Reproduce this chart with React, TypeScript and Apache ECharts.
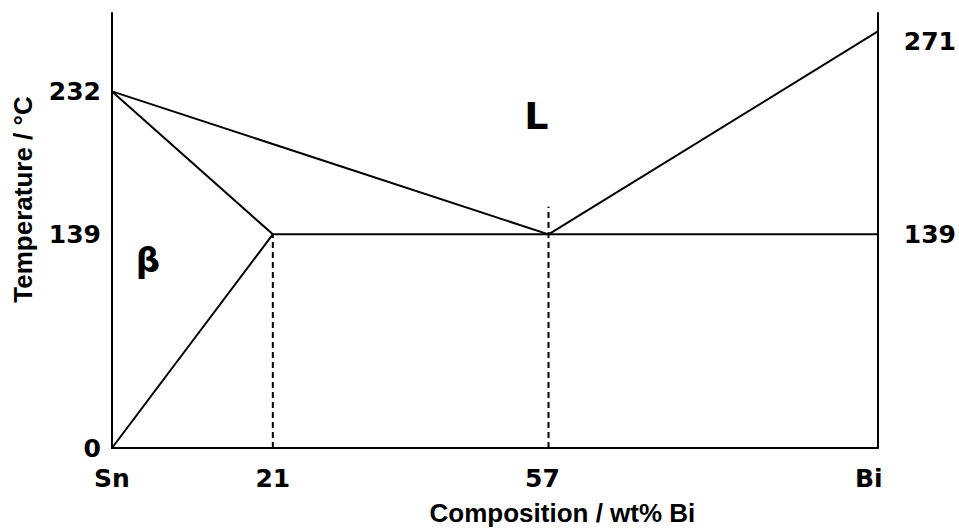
import React, { useEffect, useRef } from "react";
import * as echarts from "echarts";

const xMin = 0;
const xMax = 100;
const yMin = 0;
const yMax = 283;

const xTickValues = [0, 21, 57, 100];
const xTickNames = ["Sn", "21", "57", "Bi"];
const leftTickValues = [0, 139, 232];
const rightTickValues = [139, 271];

const liquidusLeft = [[0, 232], [57, 139]];
const liquidusRight = [[57, 139], [100, 271]];
const solvus = [[0, 232], [21, 139], [0, 0]];
const eutectic = [[21, 139], [100, 139]];
const dash21 = [[21, 0], [21, 139]];
const dash57 = [[57, 0], [57, 157]];

const regionLabels = [
  { name: "L", value: [55.4, 216], size: 38 },
  { name: "β", value: [4.7, 122], size: 34 },
];

const NUM_FONT = "DejaVu Sans";
const TITLE_FONT = "Liberation Sans";

export default function App() {
  const ref = useRef<HTMLDivElement>(null);

  useEffect(() => {
    document.body.style.margin = "0";
    const chart = echarts.init(ref.current!, null, { renderer: "svg" });
    const numStyle = { fontFamily: NUM_FONT, fontWeight: "bold", fontSize: 25, color: "#000" };
    const solid = (data: number[][], name: string) => ({
      type: "line",
      name,
      data,
      symbol: "none",
      lineStyle: { color: "#000", width: 2 },
      silent: true,
    });
    const dashed = (data: number[][], name: string) => ({
      type: "line",
      name,
      data,
      symbol: "none",
      lineStyle: { color: "#000", width: 2, type: [6, 4] },
      silent: true,
    });
    chart.setOption({
      animation: false,
      grid: { left: 112, right: 80, top: 13, bottom: 79 },
      xAxis: {
        type: "value",
        min: xMin,
        max: xMax,
        name: "Composition / wt% Bi",
        nameLocation: "middle",
        nameGap: 52,
        nameTextStyle: {
          fontFamily: TITLE_FONT,
          fontWeight: "bold",
          fontSize: 26,
          color: "#000",
          padding: [0, 0, 0, 135],
        },
        axisLine: { show: true, lineStyle: { color: "#000", width: 2 } },
        axisTick: { show: false },
        splitLine: { show: false },
        axisLabel: {
          customValues: xTickValues,
          margin: 18,
          ...numStyle,
          formatter: (v: number) => {
            const i = xTickValues.indexOf(v);
            const name = i >= 0 ? xTickNames[i] : "";
            if (v === 57) return "{s|" + name + "}";
            if (v === 100) return "{b|" + name + "}";
            return "{n|" + name + "}";
          },
          rich: {
            n: { ...numStyle },
            s: { ...numStyle, padding: [0, 12, 0, 0] },
            b: { ...numStyle, padding: [0, 18, 0, 0] },
          },
        },
      },
      yAxis: [
        {
          type: "value",
          min: yMin,
          max: yMax,
          position: "left",
          name: "Temperature / °C",
          nameLocation: "middle",
          nameGap: 76,
          nameRotate: 90,
          nameTextStyle: {
            fontFamily: TITLE_FONT,
            fontWeight: "bold",
            fontSize: 26,
            color: "#000",
            padding: [0, 0, 0, 62],
          },
          axisLine: { show: true, lineStyle: { color: "#000", width: 2 } },
          axisTick: { show: false },
          splitLine: { show: false },
          axisLabel: {
            customValues: leftTickValues,
            margin: 11,
            ...numStyle,
          },
        },
        {
          type: "value",
          min: yMin,
          max: yMax,
          position: "right",
          axisLine: { show: true, lineStyle: { color: "#000", width: 2 } },
          axisTick: { show: false },
          splitLine: { show: false },
          axisLabel: {
            customValues: rightTickValues,
            margin: 26,
            ...numStyle,
            formatter: (v: number) => (v === 271 ? "{low|" + v + "}" : "{n|" + v + "}"),
            rich: {
              n: { ...numStyle },
              low: { ...numStyle, padding: [20, 0, 0, 0] },
            },
          },
        },
      ],
      series: [
        solid(liquidusLeft, "liquidusLeft"),
        solid(liquidusRight, "liquidusRight"),
        solid(solvus, "solvus"),
        solid(eutectic, "eutectic"),
        dashed(dash21, "dash21"),
        dashed(dash57, "dash57"),
        {
          type: "scatter",
          name: "regions",
          symbolSize: 0,
          silent: true,
          itemStyle: { color: "#000", opacity: 1 },
          data: regionLabels.map((r) => ({
            name: r.name,
            value: r.value,
            label: {
              show: true,
              position: "inside",
              formatter: "{b}",
              fontFamily: NUM_FONT,
              fontWeight: "bold",
              fontSize: r.size,
              color: "#000",
              opacity: 1,
              textBorderWidth: 0,
              textBorderColor: "transparent",
            },
          })),
        },
      ],
    });
    return () => chart.dispose();
  }, []);

  return <div ref={ref} style={{ width: 959, height: 531 }} />;
}
